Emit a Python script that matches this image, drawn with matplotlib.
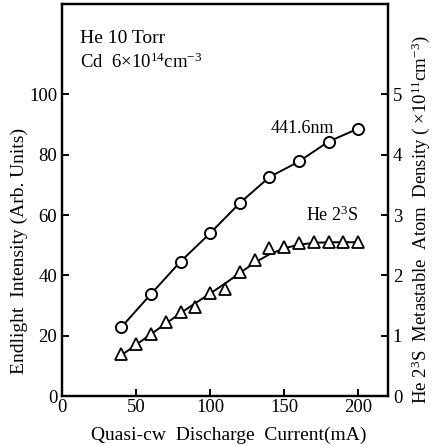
import matplotlib
matplotlib.use("Agg")
import matplotlib.pyplot as plt

plt.rcParams['font.family'] = ['Liberation Serif', 'DejaVu Serif']
plt.rcParams['mathtext.fontset'] = 'custom'
plt.rcParams['mathtext.rm'] = 'Liberation Serif'
plt.rcParams['mathtext.it'] = 'Liberation Serif:italic'

# Data
current_circ = [40, 60, 80, 100, 120, 140, 160, 180, 200]
intensity_4416 = [22.8, 33.8, 44.6, 54.0, 64.0, 72.6, 77.8, 84.4, 88.7]

current_tri = [40, 50, 60, 70, 80, 90, 100, 110, 120, 130, 140, 150, 160, 170, 180, 190, 200]
density_he = [0.69, 0.86, 1.03, 1.23, 1.40, 1.48, 1.71, 1.77, 2.06, 2.26, 2.45, 2.47, 2.54, 2.55, 2.55, 2.55, 2.55]

# fitted curve drawn through the triangles
fit_x = [40, 50, 60, 70, 80, 90, 100, 110, 120, 130, 140, 150, 160, 170, 180, 190, 200]
fit_he = [0.675, 0.85, 1.025, 1.2, 1.375, 1.54, 1.70, 1.865, 2.04, 2.21, 2.35, 2.45, 2.51, 2.54, 2.55, 2.55, 2.55]

xticks = [0, 50, 100, 150, 200]
yticks_left = [0, 20, 40, 60, 80, 100]
yticks_right = [0, 1, 2, 3, 4, 5]

fig = plt.figure(figsize=(4.32, 4.46), dpi=100)
ax = fig.add_axes([0.1435, 0.112, 0.7545, 0.879])
ax2 = ax.twinx()

ax.plot(current_circ, intensity_4416, color='black', lw=1.4, zorder=2)
ax.plot(current_circ, intensity_4416, 'o', ms=8, mfc='white', mec='black', mew=1.4, zorder=3)

ax2.plot(fit_x, fit_he, color='black', lw=1.4, zorder=2)
ax2.plot(current_tri, density_he, '^', ms=8, mfc='white', mec='black', mew=1.3, zorder=3)

ax.set_xlim(0, 220)
ax.set_ylim(0, 130)
ax2.set_ylim(0, 6.5)
ax.set_xticks(xticks)
ax.set_yticks(yticks_left)
ax2.set_yticks(yticks_right)

for a in (ax, ax2):
    for s in a.spines.values():
        s.set_linewidth(1.6)
    a.tick_params(direction='in', length=5, width=1.4, labelsize=13.5)
ax.tick_params(axis='x', pad=2)

ax.set_xlabel('Quasi-cw  Discharge  Current(mA)', fontsize=14)
ax.set_ylabel('Endlight  Intensity (Arb. Units)', fontsize=14)
ax2.set_ylabel(r'He 2$^{3}$S  Metastable  Atom  Density ( $\times$10$^{11}$cm$^{-3}$)', fontsize=13.5)
ax.xaxis.set_label_coords(0.512, -0.1)
ax.yaxis.set_label_coords(-0.13, 0.37)
ax2.yaxis.set_label_coords(1.1, 0.45)
ax.xaxis.label.set_va('center')
ax.yaxis.label.set_va('center')
ax2.yaxis.label.set_va('center')

ax.text(12, 118.5, 'He 10 Torr', fontsize=14, va='center', ha='left')
ax.text(12, 110.6, r'Cd  6$\times$10$^{14}$cm$^{-3}$', fontsize=13.5, va='center', ha='left')
ax.text(184, 88.7, '441.6nm', fontsize=13, va='center', ha='right')
ax.text(200, 60, r'He 2$^{3}$S', fontsize=13, va='center', ha='right')

fig.savefig('out.png', dpi=100)
